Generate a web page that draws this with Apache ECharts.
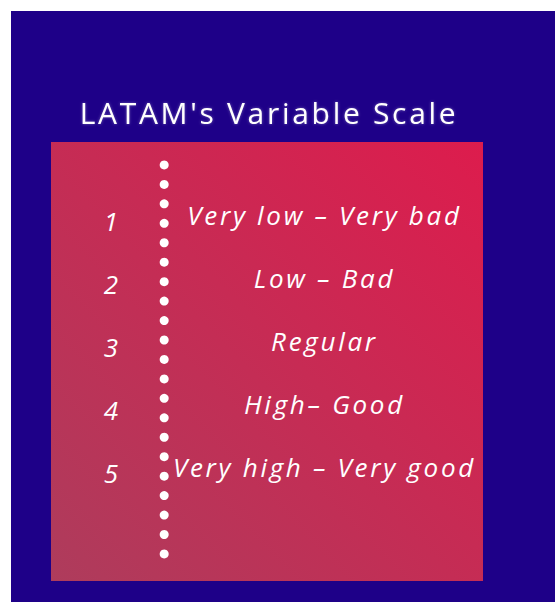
<!DOCTYPE html>
<html>
<head>
<meta charset="utf-8">
<script src="https://cdn.jsdelivr.net/npm/echarts@6/dist/echarts.min.js"></script>
<style>
  html, body { margin: 0; padding: 0; background: #fff; }
  #main { position: absolute; left: 11px; top: 11px; width: 544px; height: 591px; }
  /* svg renderer: wide tracking like the original graphic */
  #main svg text { letter-spacing: 2.7px; }
</style>
</head>
<body>
<div id="main"></div>
<script>
// scale levels and their descriptions
const ratings = [1, 2, 3, 4, 5];
const scaleLabels = [
  'Very low – Very bad',
  'Low – Bad',
  'Regular',
  'High– Good',
  'Very high – Very good'
];
// dotted divider, one entry per dot
const dotRows = [0, 1, 2, 3, 4, 5, 6, 7, 8, 9, 10, 11, 12, 13, 14, 15, 16, 17, 18, 19, 20];

const chart = echarts.init(document.getElementById('main'), null, { renderer: 'svg' });

const numberX = 14.2;
const dotX = 26.2;
const labelX = 63.3;
const font = "'Open Sans', 'Noto Sans', sans-serif";

chart.setOption({
  animation: false,
  backgroundColor: '#1e0088',
  title: {
    text: "LATAM's Variable Scale",
    left: 253,
    top: 96,
    textAlign: 'center',
    textVerticalAlign: 'middle',
    textStyle: {
      color: '#ffffff',
      fontFamily: font,
      fontWeight: 'normal',
      fontSize: 30,
      textShadowColor: 'rgba(255,255,255,0.35)',
      textShadowBlur: 3
    }
  },
  grid: {
    left: 40,
    top: 131,
    width: 432,
    height: 439,
    show: true,
    borderWidth: 0,
    backgroundColor: new echarts.graphic.LinearGradient(0, 1, 1, 0, [
      { offset: 0, color: '#ae3c5c' },
      { offset: 1, color: '#dd1c4d' }
    ])
  },
  xAxis: {
    type: 'value',
    min: 0,
    max: 100,
    show: false
  },
  yAxis: [
    { type: 'value', inverse: true, min: -0.159, max: 6.81, show: false },
    { type: 'value', inverse: true, min: -1.18, max: 21.39, show: false }
  ],
  series: [
    {
      name: 'dots',
      type: 'scatter',
      yAxisIndex: 1,
      silent: true,
      symbol: 'circle',
      symbolSize: 9,
      itemStyle: { color: '#ffffff', opacity: 1 },
      data: dotRows.map(k => [dotX, k])
    },
    {
      name: 'level',
      type: 'scatter',
      yAxisIndex: 0,
      silent: true,
      symbolSize: 0,
      itemStyle: { opacity: 1 },
      label: {
        show: true,
        position: 'inside',
        offset: [0, 6],
        color: '#ffffff',
        fontFamily: font,
        fontStyle: 'italic',
        fontSize: 26,
        formatter: p => String(p.value[1])
      },
      data: ratings.map(r => [numberX, r])
    },
    {
      name: 'meaning',
      type: 'scatter',
      yAxisIndex: 0,
      silent: true,
      symbolSize: 0,
      itemStyle: { opacity: 1 },
      label: {
        show: true,
        position: 'inside',
        color: '#ffffff',
        fontFamily: font,
        fontStyle: 'italic',
        fontSize: 26,
        formatter: p => scaleLabels[p.dataIndex]
      },
      data: ratings.map(r => [labelX, r])
    }
  ]
});
</script>
</body>
</html>
